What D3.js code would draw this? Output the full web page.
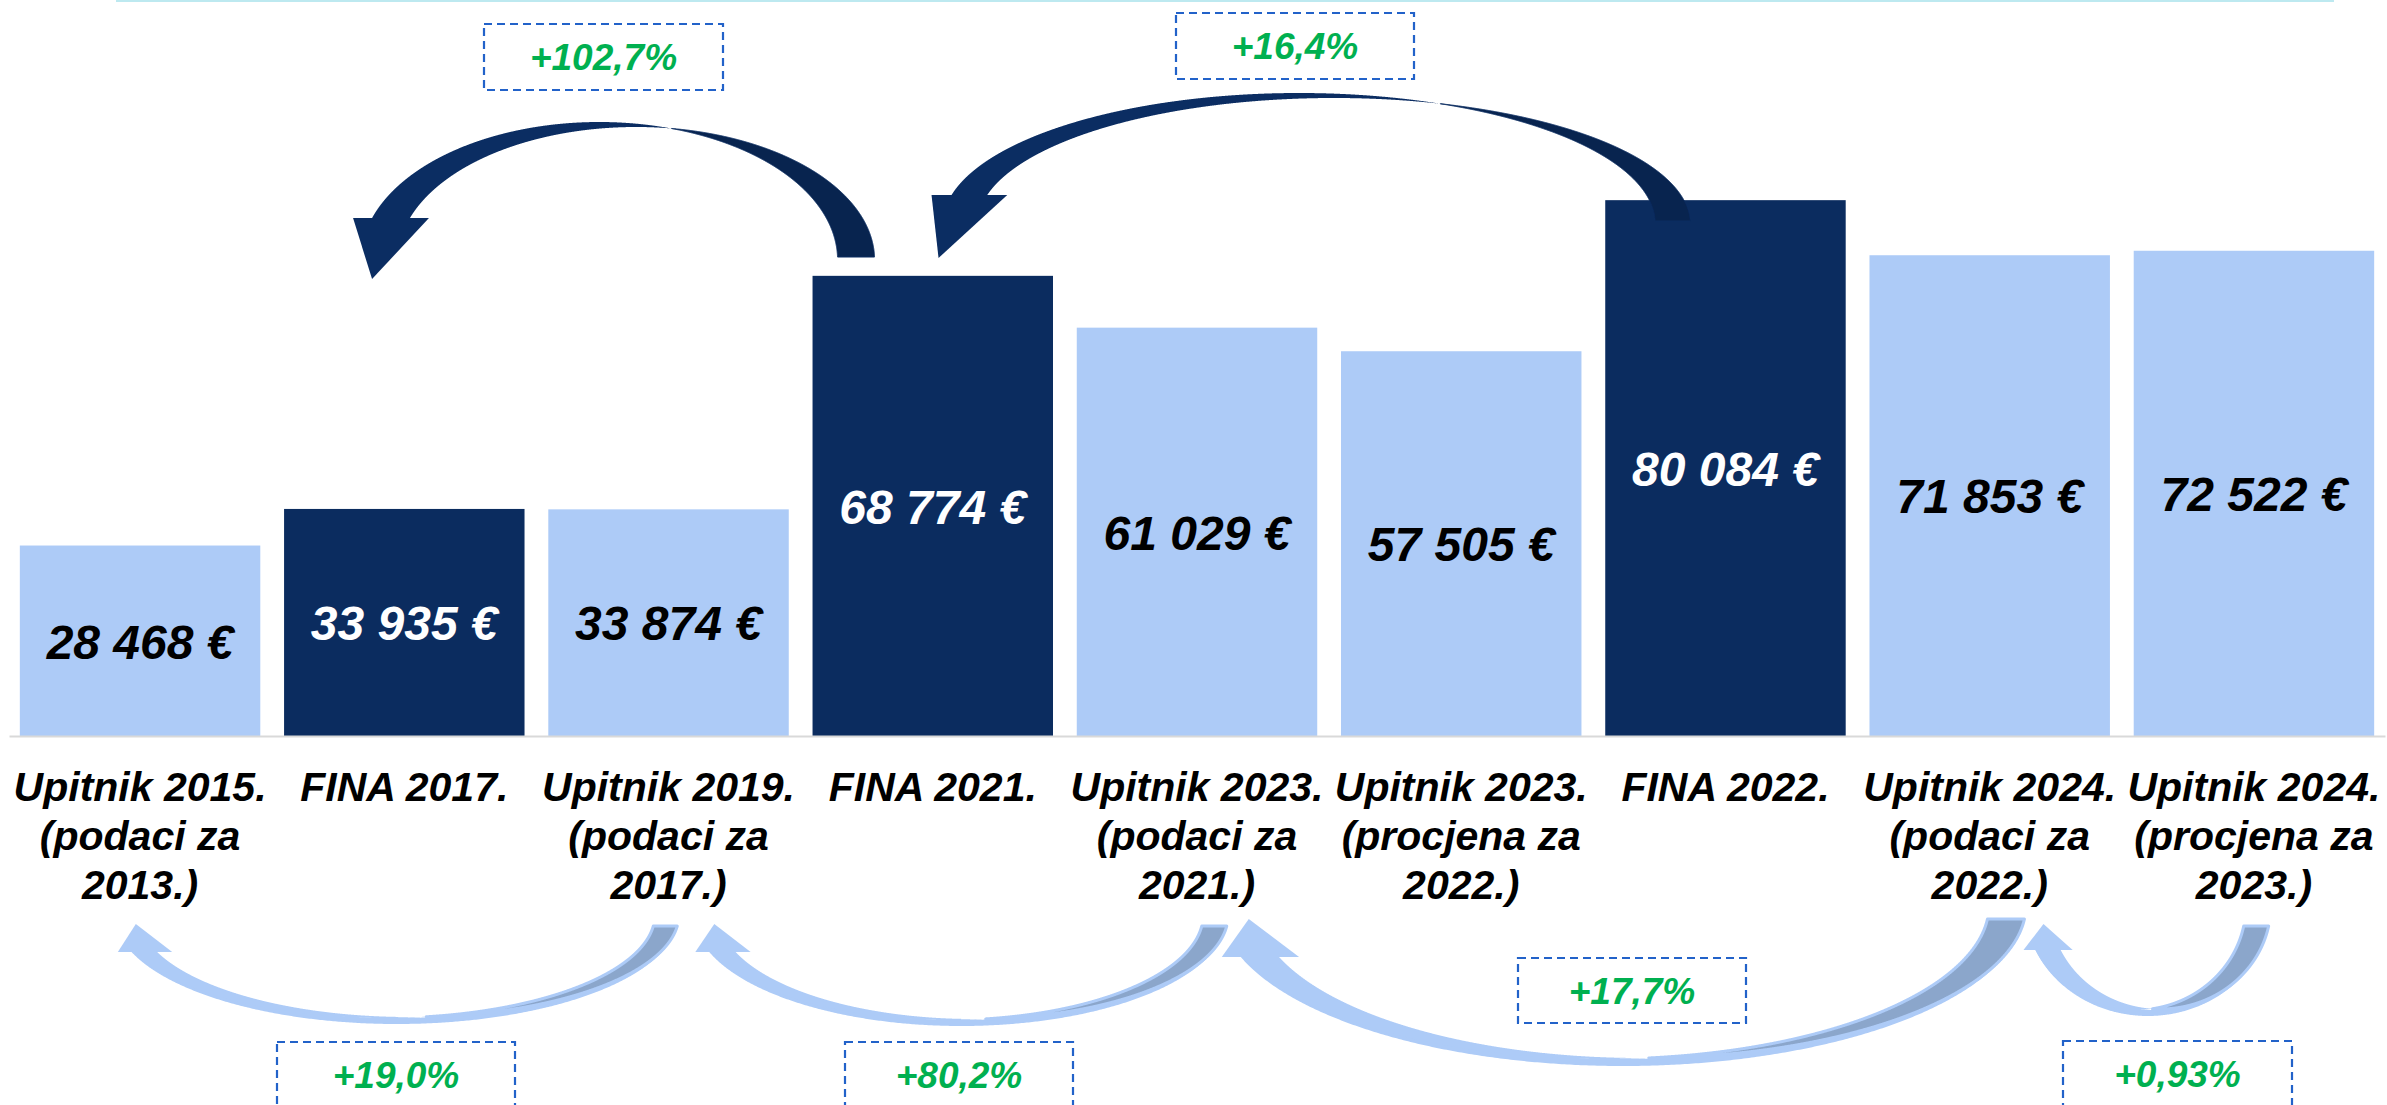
<!DOCTYPE html>
<html>
<head>
<meta charset="utf-8">
<script src="https://cdn.jsdelivr.net/npm/d3@7"></script>
<style>
  html, body { margin: 0; padding: 0; background: #fff; }
  svg { display: block; font-family: "Liberation Sans", Arial, sans-serif; }
</style>
</head>
<body>
<svg id="chart" width="2387" height="1105"></svg>
<script>
// categories (line breaks kept with "\n")
const categories = [
  "Upitnik 2015.\n(podaci za\n2013.)",
  "FINA 2017.",
  "Upitnik 2019.\n(podaci za\n2017.)",
  "FINA 2021.",
  "Upitnik 2023.\n(podaci za\n2021.)",
  "Upitnik 2023.\n(procjena za\n2022.)",
  "FINA 2022.",
  "Upitnik 2024.\n(podaci za\n2022.)",
  "Upitnik 2024.\n(procjena za\n2023.)"
];
const values = [28468, 33935, 33874, 68774, 61029, 57505, 80084, 71853, 72522];

// growth annotations: from bar -> to bar
const changeFrom = [3, 6, 2, 4, 7, 8];
const changeTo = [1, 3, 0, 2, 4, 7];
const changeLabels = ["+102,7%", "+16,4%", "+19,0%", "+80,2%", "+17,7%", "+0,93%"];

// arrow / box layout (pixels)
const arrowLayout = [
  { side: "top", headDx: 88, tailDx: 25, w: 37, yHead: 218, yTail: 257, cy: 260, ry: 138, dry: 5, skin: 0, ext: 19, tipDx: 0, tipDy: 61, box: [484, 24, 239, 66] },
  { side: "top", headDx: 139, tailDx: 50, w: 35, yHead: 195, yTail: 221, cy: 224, ry: 131, dry: 5, skin: 0, ext: 20, tipDx: -13, tipDy: 63, box: [1176, 13, 238, 66] },
  { side: "bottom", headDx: 113, tailDx: 105, w: 24, yHead: 952, yTail: 926, cy: 915, ry: 103, dry: 1, skin: 6, ext: 15, tipDx: 3, tipDy: -28, box: [277, 1042, 238, 66] },
  { side: "bottom", headDx: 162, tailDx: 125, w: 25, yHead: 952, yTail: 926, cy: 915, ry: 105, dry: 1, skin: 6, ext: 15, tipDx: 4, tipDy: -28, box: [845, 1042, 228, 66] },
  { side: "bottom", headDx: 165, tailDx: 118, w: 37, yHead: 957, yTail: 919, cy: 905, ry: 154, dry: 1, skin: 7, ext: 20, tipDx: 7, tipDy: -38, box: [1518, 958, 228, 65] },
  { side: "bottom", headDx: 166, tailDx: 110, w: 25, yHead: 950, yTail: 926, cy: 905, ry: 105, dry: 1, skin: 6, ext: 12, tipDx: 8, tipDy: -26, box: [2063, 1041, 229, 66] }
];

const DARK = "#0B2C5F";
const LIGHT = "#ADCBF7";

const svg = d3.select("#chart");

const x = d3.scaleBand()
  .domain(categories)
  .range([9, 2385])
  .paddingInner(0.09)
  .paddingOuter(0.041);

const y = d3.scaleLinear()
  .domain([0, 110000])
  .range([736, 0]);

const isFina = c => c.startsWith("FINA");
const fmt = d3.formatLocale({ decimal: ",", thousands: " ", grouping: [3], currency: ["", ""] }).format(",");

// thin cyan line at the very top
svg.append("line")
  .attr("x1", 116).attr("x2", 2334)
  .attr("y1", 1).attr("y2", 1)
  .attr("stroke", "#BDE9F0")
  .attr("stroke-width", 2);

// bars
svg.append("g")
  .selectAll("rect")
  .data(categories)
  .join("rect")
  .attr("x", c => x(c))
  .attr("width", x.bandwidth())
  .attr("y", (c, i) => y(values[i]))
  .attr("height", (c, i) => y(0) - y(values[i]))
  .attr("fill", c => isFina(c) ? DARK : LIGHT);

// value labels, centred in the bars
svg.append("g")
  .selectAll("text")
  .data(categories)
  .join("text")
  .attr("x", c => x(c) + x.bandwidth() / 2)
  .attr("y", (c, i) => (y(values[i]) + y(0)) / 2)
  .attr("dy", "0.37em")
  .attr("text-anchor", "middle")
  .attr("font-size", 48)
  .attr("font-weight", "bold")
  .attr("font-style", "italic")
  .attr("fill", c => isFina(c) ? "#fff" : "#000")
  .text((c, i) => fmt(values[i]) + " €");

// category axis
const axis = svg.append("g")
  .attr("transform", `translate(0,${y(0)})`)
  .call(d3.axisBottom(x).tickSize(0).tickSizeOuter(0));

axis.select(".domain").attr("stroke", "#D9D9D9").attr("stroke-width", 2);
axis.selectAll(".tick text").remove();
axis.selectAll(".tick").each(function (c) {
  const t = d3.select(this).append("text")
    .attr("text-anchor", "middle")
    .attr("font-family", "'Liberation Sans', Arial, sans-serif")
    .attr("font-size", 41)
    .attr("font-weight", "bold")
    .attr("font-style", "italic")
    .attr("fill", "#000");
  c.split("\n").forEach((ln, i) => {
    t.append("tspan").attr("x", 0).attr("y", 65 + i * 49).text(ln);
  });
});

// curved arrows: band between ellipse A and the same ellipse shifted by w
function arcPoint(e, th, sgn) {
  return [e.cx + e.rx * Math.cos(th), e.cy + sgn * e.ry * Math.sin(th)];
}
function isInside(e, p) {
  const u = (p[0] - e.cx) / e.rx, v = (p[1] - e.cy) / e.ry;
  return u * u + v * v < 1;
}
function cutAngle(e, yCut, sgn) {
  return Math.asin(Math.min(1, sgn * (yCut - e.cy) / e.ry));
}
function trace(e, other, th0, dir, wantInside, sgn) {
  const pts = [];
  const step = Math.PI / 2000;
  for (let th = th0; th >= 0 && th <= Math.PI; th += dir * step) {
    const p = arcPoint(e, th, sgn);
    if (isInside(other, p) !== wantInside) break;
    pts.push(p);
  }
  return pts;
}
function arcPts(e, th0, th1, sgn) {
  return d3.range(0, 401).map(i => arcPoint(e, th0 + (th1 - th0) * i / 400, sgn));
}

const line = d3.line();
const arrows = svg.append("g");

arrowLayout.forEach((a, k) => {
  const sgn = a.side === "top" ? -1 : 1;
  const xHL = x(categories[changeTo[k]]) + a.headDx;
  const xTR = x(categories[changeFrom[k]]) + a.tailDx;
  const fH = Math.sqrt(1 - Math.pow((a.yHead - a.cy) / a.ry, 2));
  const fT = Math.sqrt(1 - Math.pow((a.yTail - a.cy) / a.ry, 2));
  const rx = (xTR - xHL) / (fH + fT);
  const A = { cx: xHL + rx * fH, cy: a.cy, rx: rx, ry: a.ry };
  const B = { cx: A.cx + a.w, cy: a.cy, rx: rx, ry: a.ry - a.dry };

  const aOut = trace(A, B, Math.PI - cutAngle(A, a.yHead, sgn), -1, false, sgn);
  const bIn = trace(B, A, Math.PI - cutAngle(B, a.yHead, sgn), -1, true, sgn);
  const bOut = trace(B, A, cutAngle(B, a.yTail, sgn), 1, false, sgn);
  const aIn = trace(A, B, cutAngle(A, a.yTail, sgn), 1, true, sgn);

  const headFill = a.side === "top" ? "#0B2D62" : LIGHT;
  const tailFill = a.side === "top" ? "#08244F" : "#8BA6CB";
  const tailStroke = a.side === "top" ? "#0B2D62" : LIGHT;

  // light skin under the whole arc so the band never pinches to nothing
  if (a.skin > 0) {
    const S = { cx: A.cx + a.w / 2, cy: a.cy, rx: rx + a.w / 2, ry: a.ry + a.skin };
    const I = { cx: A.cx + a.w / 2, cy: a.cy, rx: rx + a.w / 2, ry: a.ry };
    const outer = arcPts(S, Math.PI - cutAngle(S, a.yHead, sgn), cutAngle(S, a.yTail, sgn), sgn);
    const inner = arcPts(I, Math.PI - cutAngle(I, a.yHead, sgn), cutAngle(I, a.yTail, sgn), sgn);
    arrows.append("path")
      .attr("d", line(outer.concat(inner.reverse())) + "Z")
      .attr("fill", LIGHT);
  }

  const hx0 = aOut[0][0], hx1 = bIn[0][0];
  arrows.append("path")
    .attr("d", line(aOut.concat(bIn.slice().reverse())) + "Z")
    .attr("fill", headFill);
  arrows.append("path")
    .attr("d", line([[hx0 - a.ext, a.yHead], [hx1 + a.ext, a.yHead], [hx0 + a.tipDx, a.yHead + a.tipDy]]) + "Z")
    .attr("fill", headFill);
  arrows.append("path")
    .attr("d", line(bOut.concat(aIn.slice().reverse())) + "Z")
    .attr("fill", tailFill)
    .attr("stroke", tailStroke)
    .attr("stroke-width", a.side === "top" ? 1 : 3)
    .attr("stroke-linejoin", "round");
});

// dashed boxes with the growth rates
const boxes = svg.append("g")
  .selectAll("g")
  .data(arrowLayout)
  .join("g");

boxes.append("rect")
  .attr("x", a => a.box[0])
  .attr("y", a => a.box[1])
  .attr("width", a => a.box[2])
  .attr("height", a => a.box[3])
  .attr("fill", "#fff")
  .attr("stroke", "#2262C9")
  .attr("stroke-width", 2.2)
  .attr("stroke-dasharray", "8 5");

boxes.append("text")
  .attr("x", a => a.box[0] + a.box[2] / 2)
  .attr("y", a => a.box[1] + a.box[3] / 2)
  .attr("dy", "0.36em")
  .attr("text-anchor", "middle")
  .attr("font-size", 37)
  .attr("font-weight", "bold")
  .attr("font-style", "italic")
  .attr("fill", "#00B050")
  .text((a, i) => changeLabels[i]);
</script>
</body>
</html>
